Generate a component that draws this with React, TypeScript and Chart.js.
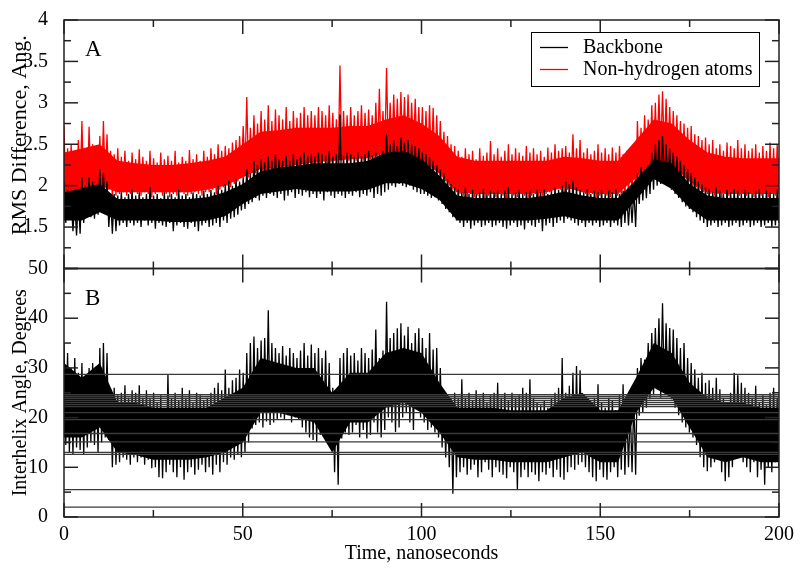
import React, { useEffect, useRef } from "react";
import { Chart, registerables } from "chart.js";

Chart.register(...registerables);

const FONT = '"Liberation Serif", "Times New Roman", serif';

// ---- Panel A: RMS difference (Angstrom) ----
// per-ns upper / lower extremes of the noisy trace (200 bins over 0..200 ns)
const backboneHigh = [
  2.05, 1.95, 1.85, 1.8, 1.85, 2.1, 2.0, 2.1, 2.05, 2.0,
  2.2, 2.15, 2.05, 1.85, 1.9, 1.88, 1.92, 1.86, 1.9, 1.95,
  1.88, 1.92, 1.86, 1.9, 1.98, 1.88, 1.9, 1.85, 1.92, 1.88,
  1.9, 1.86, 1.95, 1.88, 1.9, 1.86, 1.92, 1.9, 1.88, 1.94,
  1.9, 1.95, 1.92, 2.0, 1.95, 2.02, 2.06, 2.0, 2.08, 2.05,
  2.1, 2.2, 2.15, 2.3, 2.25, 2.32, 2.28, 2.35, 2.3, 2.38,
  2.32, 2.3, 2.36, 2.3, 2.38, 2.32, 2.35, 2.4, 2.36, 2.38,
  2.35, 2.4, 2.38, 2.36, 2.42, 2.35, 2.38, 2.86, 2.36, 2.4,
  2.38, 2.35, 2.4, 2.36, 2.38, 2.42, 2.36, 2.4, 2.38, 2.42,
  2.62, 2.5, 2.55, 2.48, 2.58, 2.52, 2.55, 2.5, 2.48, 2.45,
  2.4, 2.38, 2.35, 2.3, 2.25, 2.2, 2.15, 2.08, 2.02, 1.98,
  1.96, 1.92, 1.98, 1.9, 1.95, 1.9, 1.92, 1.96, 1.9, 1.94,
  1.92, 1.95, 1.9, 1.94, 1.98, 1.9, 1.92, 1.95, 1.9, 1.92,
  1.94, 1.9, 1.95, 1.92, 1.96, 1.9, 1.94, 1.98, 1.95, 2.0,
  2.05, 2.02, 2.06, 1.98, 1.95, 1.92, 1.96, 1.9, 1.94, 1.92,
  1.95, 1.9, 1.94, 1.92, 1.96, 1.9, 1.94, 1.92, 1.9, 1.95,
  2.15, 2.22, 2.2, 2.25, 2.4, 2.5, 2.55, 2.6, 2.5, 2.45,
  2.4, 2.35, 2.3, 2.25, 2.2, 2.15, 2.1, 2.05, 2.02, 1.98,
  1.96, 1.92, 1.98, 1.94, 1.9, 1.95, 1.92, 1.96, 1.94, 1.9,
  1.95, 1.92, 1.9, 1.94, 1.96, 1.9, 1.94, 1.92, 1.9, 1.95,
];
const backboneLow = [
  1.55, 1.6, 1.45, 1.4, 1.42, 1.55, 1.65, 1.62, 1.6, 1.65,
  1.7, 1.68, 1.5, 1.42, 1.45, 1.52, 1.55, 1.5, 1.55, 1.52,
  1.55, 1.5, 1.58, 1.52, 1.55, 1.48, 1.55, 1.52, 1.5, 1.55,
  1.45, 1.52, 1.55, 1.5, 1.48, 1.55, 1.5, 1.45, 1.52, 1.55,
  1.5, 1.52, 1.55, 1.5, 1.58, 1.55, 1.6, 1.62, 1.65, 1.7,
  1.72, 1.78, 1.8, 1.85, 1.82, 1.88, 1.85, 1.9, 1.88, 1.85,
  1.9, 1.82, 1.88, 1.92, 1.85, 1.9, 1.88, 1.92, 1.86, 1.9,
  1.85, 1.9, 1.82, 1.92, 1.88, 1.85, 1.9, 1.88, 1.85, 1.9,
  1.88, 1.92, 1.86, 1.9, 1.88, 1.92, 1.85, 1.9, 1.88, 1.92,
  1.95, 2.0, 1.98, 2.02, 2.0, 1.98, 2.0, 1.95, 1.92, 1.9,
  1.9, 1.88, 1.85, 1.86, 1.82, 1.78, 1.72, 1.68, 1.62, 1.58,
  1.55, 1.5, 1.55, 1.48, 1.52, 1.55, 1.5, 1.52, 1.55, 1.5,
  1.52, 1.55, 1.5, 1.48, 1.52, 1.55, 1.5, 1.52, 1.47, 1.55,
  1.52, 1.5, 1.55, 1.45, 1.52, 1.55, 1.5, 1.55, 1.58, 1.55,
  1.6, 1.58, 1.55, 1.52, 1.55, 1.5, 1.55, 1.52, 1.55, 1.5,
  1.52, 1.55, 1.5, 1.55, 1.52, 1.5, 1.55, 1.52, 1.55, 1.5,
  1.78, 1.82, 1.85, 1.9, 1.95, 2.0, 2.02, 2.05, 2.0, 1.95,
  1.9, 1.85, 1.8, 1.75, 1.72, 1.68, 1.62, 1.58, 1.55, 1.5,
  1.52, 1.55, 1.5, 1.52, 1.55, 1.5, 1.52, 1.55, 1.5, 1.52,
  1.55, 1.5, 1.52, 1.55, 1.5, 1.52, 1.55, 1.5, 1.52, 1.55,
];
const heavyHigh = [
  2.72, 2.45, 2.5, 2.4, 2.55, 2.78, 2.4, 2.71, 2.5, 2.45,
  2.6, 2.78, 2.62, 2.42, 2.38, 2.45, 2.35, 2.42, 2.3, 2.4,
  2.32, 2.44, 2.35, 2.3, 2.42, 2.33, 2.28, 2.4, 2.32, 2.36,
  2.3, 2.42, 2.28, 2.35, 2.3, 2.43, 2.32, 2.38, 2.3, 2.42,
  2.35, 2.45, 2.38, 2.5, 2.42, 2.48, 2.45, 2.52, 2.55, 2.6,
  2.72, 3.07, 2.7, 2.85, 2.75, 2.9, 2.8, 2.97, 2.78, 2.92,
  2.85, 2.8, 2.95, 2.78, 2.9, 2.82, 2.88, 2.95, 2.85, 2.9,
  2.85, 2.95, 2.9, 2.85, 2.97, 2.88, 2.8, 3.45, 2.9, 2.85,
  2.95, 2.85, 2.9, 2.97, 2.88, 2.92, 2.85, 3.0, 3.17, 2.9,
  3.42, 3.0, 3.1, 3.05, 3.13, 3.07, 3.1, 3.0, 3.05, 2.95,
  2.95, 2.9, 2.97, 2.94, 2.85, 2.78, 2.65, 2.6, 2.5, 2.48,
  2.42, 2.35, 2.45, 2.38, 2.42, 2.32, 2.45, 2.36, 2.4, 2.54,
  2.38, 2.45, 2.35, 2.42, 2.5, 2.38, 2.45, 2.4, 2.36, 2.48,
  2.4, 2.45, 2.38, 2.42, 2.35, 2.46, 2.4, 2.5, 2.42, 2.45,
  2.48, 2.4, 2.62, 2.45, 2.55, 2.4, 2.45, 2.38, 2.42, 2.5,
  2.4, 2.45, 2.38, 2.46, 2.4, 2.48, 2.38, 2.42, 2.4, 2.45,
  2.78, 2.7, 2.85, 2.8, 2.97, 3.0, 3.1, 3.14, 3.05, 2.95,
  2.9, 2.85, 2.78, 2.75, 2.7, 2.72, 2.62, 2.6, 2.55, 2.58,
  2.5, 2.55, 2.45, 2.5, 2.42, 2.52, 2.48, 2.45, 2.55, 2.45,
  2.5, 2.42, 2.45, 2.5, 2.4, 2.48, 2.42, 2.52, 2.45, 2.5,
];
const heavyLow = [
  1.85, 1.9, 1.82, 1.88, 1.95, 1.9, 1.92, 1.98, 1.95, 1.9,
  1.95, 2.0, 1.95, 1.85, 1.88, 1.9, 1.92, 1.88, 1.9, 1.92,
  1.9, 1.88, 1.92, 1.9, 1.86, 1.9, 1.92, 1.88, 1.9, 1.86,
  1.9, 1.88, 1.92, 1.9, 1.88, 1.9, 1.92, 1.9, 1.88, 1.92,
  1.92, 1.95, 1.9, 1.95, 1.98, 2.0, 1.98, 2.02, 2.05, 2.1,
  2.15, 2.1, 2.2, 2.15, 2.2, 2.12, 2.18, 2.2, 2.15, 2.22,
  2.2, 2.25, 2.2, 2.18, 2.25, 2.2, 2.26, 2.22, 2.28, 2.25,
  2.28, 2.25, 2.3, 2.26, 2.28, 2.3, 2.25, 2.3, 2.32, 2.3,
  2.32, 2.3, 2.34, 2.3, 2.35, 2.32, 2.3, 2.35, 2.33, 2.36,
  2.38, 2.4, 2.38, 2.42, 2.4, 2.38, 2.42, 2.4, 2.35, 2.3,
  2.28, 2.25, 2.22, 2.2, 2.15, 2.1, 2.05, 2.0, 1.95, 1.92,
  1.9, 1.88, 1.85, 1.9, 1.86, 1.88, 1.9, 1.85, 1.88, 1.9,
  1.86, 1.9, 1.88, 1.85, 1.9, 1.88, 1.86, 1.9, 1.88, 1.85,
  1.88, 1.9, 1.86, 1.88, 1.9, 1.92, 1.95, 1.98, 1.95, 1.92,
  1.95, 2.0, 1.98, 1.95, 1.92, 1.9, 1.88, 1.9, 1.86, 1.88,
  1.9, 1.88, 1.86, 1.9, 1.88, 1.85, 1.88, 1.9, 1.86, 1.88,
  2.05, 2.1, 2.15, 2.2, 2.25, 2.3, 2.35, 2.38, 2.32, 2.28,
  2.25, 2.2, 2.15, 2.1, 2.05, 2.0, 1.98, 1.95, 1.92, 1.9,
  1.9, 1.88, 1.9, 1.86, 1.9, 1.88, 1.9, 1.92, 1.88, 1.9,
  1.88, 1.9, 1.86, 1.9, 1.88, 1.9, 1.86, 1.9, 1.88, 1.9,
];
// dense core of each band, every 5 ns (0..200)
const backboneCoreHigh = [
  1.92, 1.97, 2.02, 1.84, 1.84, 1.84, 1.84, 1.84, 1.86, 1.92, 2.02, 2.17, 2.22, 2.24, 2.27, 2.27, 2.27, 2.3, 2.4, 2.42, 2.32,
  2.12, 1.88, 1.85, 1.85, 1.85, 1.85, 1.88, 1.93, 1.88, 1.85, 1.85, 2.07, 2.32, 2.27, 2.02, 1.88, 1.85, 1.85, 1.85, 1.85,
];
const backboneCoreLow = [
  1.58, 1.58, 1.68, 1.58, 1.58, 1.58, 1.56, 1.56, 1.58, 1.63, 1.78, 1.9, 1.93, 1.96, 1.93, 1.93, 1.93, 1.95, 2.03, 2.03, 1.96,
  1.83, 1.58, 1.58, 1.58, 1.58, 1.58, 1.6, 1.63, 1.58, 1.58, 1.58, 1.83, 2.08, 1.96, 1.73, 1.58, 1.58, 1.58, 1.58, 1.58,
];
const heavyCoreHigh = [
  2.4, 2.45, 2.5, 2.3, 2.27, 2.25, 2.25, 2.27, 2.3, 2.35, 2.5, 2.65, 2.67, 2.7, 2.7, 2.7, 2.72, 2.72, 2.8, 2.85, 2.75,
  2.6, 2.35, 2.3, 2.3, 2.3, 2.3, 2.3, 2.35, 2.33, 2.3, 2.3, 2.55, 2.8, 2.75, 2.55, 2.4, 2.35, 2.33, 2.33, 2.33,
];
const heavyCoreLow = [
  1.92, 1.95, 2.0, 1.92, 1.92, 1.92, 1.92, 1.92, 1.95, 2.0, 2.1, 2.2, 2.22, 2.25, 2.28, 2.3, 2.32, 2.33, 2.4, 2.42, 2.3,
  2.15, 1.92, 1.9, 1.9, 1.9, 1.9, 1.92, 1.98, 1.92, 1.9, 1.9, 2.1, 2.3, 2.25, 2.05, 1.92, 1.9, 1.9, 1.9, 1.9,
];

// ---- Panel B: interhelix angle (degrees) ----
const angleHigh = [
  35, 33, 30, 32, 29, 31, 28, 30, 31, 29,
  34, 35, 33, 24, 26, 24.5, 25, 26.5, 24, 25.5,
  25, 26.5, 24, 25.5, 24, 25, 23, 24.5, 22, 28.7,
  24, 25, 23.5, 26, 24, 25.5, 23, 25, 24.5, 23.5,
  24, 25, 26, 27, 25.5, 29.7, 26, 27.5, 28, 29.7,
  29, 33, 35, 36.3, 34, 35.5, 36, 41.6, 35, 34,
  33, 34.4, 32.5, 34, 33, 32, 33.5, 35, 32.5, 34.7,
  33, 34, 32, 33.5, 31, 26, 25.7, 32, 33, 34,
  32.5, 33, 31.5, 34, 33, 32, 33.7, 37.7, 32, 33.5,
  43.3, 36, 37, 38, 39, 36.5, 38.3, 35, 37, 38,
  36, 34, 37, 33.7, 34, 30, 25, 24.5, 24, 25,
  24, 27.7, 24, 25, 23.5, 25.5, 24, 25, 23, 24.5,
  25, 27, 24, 25, 23.5, 25, 24, 24.5, 26, 25,
  27.7, 24, 23, 22.5, 23.5, 22, 24, 25, 26, 32,
  25, 26.4, 29, 30.4, 29.5, 24, 23, 22.5, 24, 26.7,
  23, 22, 24, 23.5, 21.5, 24.5, 26.7, 23, 22, 24,
  30, 32, 31.7, 35, 37, 38, 40, 43, 39, 38,
  37.7, 36, 34, 35, 32, 31, 29.7, 28, 29, 27,
  27.5, 26, 28, 25.7, 24, 23, 25, 29, 28.5, 27,
  26, 25, 24, 26.4, 23, 24.5, 22.5, 25, 26, 24,
];
const angleLow = [
  14.5, 13, 12.5, 14, 13.5, 12.5, 14, 15, 14.5, 13,
  15, 16, 15.5, 10, 10.5, 11, 12, 11.5, 10.5, 12,
  11, 12, 10.5, 11.5, 9.8, 10, 8, 7.8, 9, 10.5,
  9, 8, 10, 7.5, 9, 10, 8.5, 9.5, 10.5, 9,
  10, 8.5, 10.5, 9, 11, 10.5, 12, 11.5, 12.5, 12,
  13, 15, 17.8, 18.5, 19, 18, 19.2, 18.5, 19, 19.5,
  20, 19.5, 20.5, 19, 20, 19.5, 18, 17, 16, 15.5,
  15.1, 16.5, 17.8, 15.5, 15, 9, 6.5, 15.8, 17, 16.5,
  17, 18.5, 16, 17.5, 15.8, 16.5, 19, 17, 16, 17.5,
  20, 19, 17.1, 18, 20, 21, 19, 17.5, 22.4, 20,
  19, 17.5, 18, 17, 16, 14, 12, 10, 4.7, 8,
  9, 10, 8.5, 9.5, 10.5, 8, 9, 11, 9.5, 8,
  10, 9, 8.5, 7.8, 10, 9, 5.5, 8, 9.5, 8,
  9, 8.5, 7.2, 9, 8.5, 9.8, 8, 9.5, 8, 7.5,
  9, 10, 9.5, 10.5, 11, 10, 9, 8, 7.2, 9.5,
  8, 7.5, 9, 10, 8, 9.5, 8.5, 10, 9, 8.5,
  20.4, 21, 22, 23.7, 24.5, 25.7, 24, 25, 24.5, 23.7,
  22, 20.5, 19, 18, 17, 16, 14.5, 12, 10, 9.2,
  10, 11, 12, 9, 7.2, 8, 10, 12, 13, 11,
  10, 9, 11, 8, 9.5, 6.5, 10, 9, 11, 10,
];
const angleCoreHigh = [
  31, 28, 31, 23, 23, 22, 22, 22, 22, 24, 26, 32, 31, 30, 30, 25, 29, 29, 33, 34, 33,
  27, 22, 22, 22, 21.5, 21.5, 21.5, 24, 25, 21.5, 21.5, 28, 35, 33, 27, 24, 23, 23, 22, 22,
];
const angleCoreLow = [
  16, 16, 18, 13, 12.5, 11.5, 11.5, 11.5, 12, 13, 15, 21, 21, 20, 19, 13, 19, 19, 22, 23, 21,
  17, 12, 11.5, 11.5, 11, 11, 11, 12, 13, 11, 11, 21, 26, 24, 18, 12, 11, 12, 11, 11,
];
// Full-width horizontal wrap-around segments visible in panel B (degrees)
const angleWrapLevels = [28.7, 24.6, 24.2, 23.8, 23.4, 23.0, 22.6, 22.2, 21.0, 19.6, 16.8, 15.1, 13.0, 12.6, 5.5, 2.0];

const timeRange = [0, 200];
const timeTicks = [0, 50, 100, 150, 200];
const timeMinorTicks = [25, 75, 125, 175];
const rmsRange = [1, 4];
const rmsTicks = [1, 1.5, 2, 2.5, 3, 3.5, 4];
const rmsMinorTicks = [1.25, 1.75, 2.25, 2.75, 3.25, 3.75];
const rmsHiddenLabels = [1];
const angleRange = [0, 50];
const angleTicks = [0, 10, 20, 30, 40, 50];
const angleMinorTicks = [5, 15, 25, 35, 45];

const legendEntries = [
  { label: "Backbone", color: "#000000" },
  { label: "Non-hydrogen atoms", color: "#ff0000" },
];

// trace alternating between each bin's upper and lower extreme
function trace(hi: number[], lo: number[]) {
  const step = (timeRange[1] - timeRange[0]) / (hi.length - 0.5);
  const pts: { x: number; y: number }[] = [];
  for (let i = 0; i < hi.length; i++) {
    pts.push({ x: timeRange[0] + i * step, y: hi[i] });
    pts.push({ x: timeRange[0] + (i + 0.5) * step, y: lo[i] });
  }
  return pts;
}
function evenly(values: number[]) {
  const step = (timeRange[1] - timeRange[0]) / (values.length - 1);
  return values.map((v, i) => ({ x: timeRange[0] + i * step, y: v }));
}

const decorPlugin = {
  id: "decor",
  afterDatasetsDraw(chart: any) {
    const ctx = chart.ctx as CanvasRenderingContext2D;
    const xs = chart.scales.x;
    const left = chart.chartArea.left;
    const right = chart.chartArea.right;
    const panels = [
      { s: chart.scales.yA, major: rmsTicks, minor: rmsMinorTicks, letter: "A", title: "RMS Difference, Ang.", titleSize: 22, titleShift: -9 },
      { s: chart.scales.yB, major: angleTicks, minor: angleMinorTicks, letter: "B", title: "Interhelix Angle, Degrees", titleSize: 20, titleShift: 0 },
    ];
    ctx.save();
    const seg = (x1: number, y1: number, x2: number, y2: number) => {
      ctx.beginPath();
      ctx.moveTo(x1, y1);
      ctx.lineTo(x2, y2);
      ctx.stroke();
    };
    for (const p of panels) {
      const top = p.s.top;
      const bottom = p.s.bottom;
      ctx.strokeStyle = "#222";
      ctx.lineWidth = 1.5;
      ctx.strokeRect(left, top, right - left, bottom - top);
      for (const v of timeTicks) {
        const px = xs.getPixelForValue(v);
        seg(px, bottom, px, bottom - 14);
        seg(px, top, px, top + 14);
      }
      for (const v of timeMinorTicks) {
        const px = xs.getPixelForValue(v);
        seg(px, bottom, px, bottom - 7);
        seg(px, top, px, top + 7);
      }
      for (const v of p.major) {
        const py = p.s.getPixelForValue(v);
        seg(left, py, left + 14, py);
        seg(right, py, right - 14, py);
      }
      for (const v of p.minor) {
        const py = p.s.getPixelForValue(v);
        seg(left, py, left + 7, py);
        seg(right, py, right - 7, py);
      }
      ctx.fillStyle = "#000";
      ctx.font = `23px ${FONT}`;
      ctx.textAlign = "left";
      ctx.textBaseline = "alphabetic";
      ctx.fillText(p.letter, left + 21, top + 36);
      ctx.save();
      ctx.translate(26, (top + bottom) / 2 + p.titleShift);
      ctx.rotate(-Math.PI / 2);
      ctx.font = `${p.titleSize}px ${FONT}`;
      ctx.textAlign = "center";
      ctx.fillText(p.title, 0, 0);
      ctx.restore();
    }
    // legend box
    const lx = 531, ly = 32, lw = 228, lh = 54;
    ctx.fillStyle = "#fff";
    ctx.fillRect(lx, ly, lw, lh);
    ctx.lineWidth = 1;
    ctx.strokeStyle = "#000";
    ctx.strokeRect(lx + 0.5, ly + 0.5, lw, lh);
    legendEntries.forEach((d, i) => {
      const y = ly + 15 + i * 22;
      ctx.strokeStyle = d.color;
      ctx.lineWidth = 1.3;
      seg(lx + 9, y + 0.5, lx + 37, y + 0.5);
      ctx.fillStyle = "#000";
      ctx.font = `20px ${FONT}`;
      ctx.textAlign = "left";
      ctx.textBaseline = "middle";
      ctx.fillText(d.label, lx + 52, y + 1);
    });
    ctx.restore();
  },
};

export default function App() {
  const ref = useRef<HTMLCanvasElement | null>(null);
  useEffect(() => {
    if (!ref.current) return;
    const tickFont = { family: FONT, size: 20 };
    const wrapSets = angleWrapLevels.map((v) => ({
      label: "wrap",
      data: [
        { x: timeRange[0], y: v },
        { x: timeRange[1], y: v },
      ],
      yAxisID: "yB",
      borderColor: "#3a3a3a",
      borderWidth: 1.3,
      fill: false,
      order: 0,
    }));
    const core = (label: string, hi: number[], lo: number[], color: string, axis: string, order: number) => [
      { label: label + " core", data: evenly(hi), yAxisID: axis, borderColor: color, backgroundColor: color, borderWidth: 0, fill: false, order },
      { label: label + " core (lower)", data: evenly(lo), yAxisID: axis, borderColor: color, backgroundColor: color, borderWidth: 0, fill: "-1", order },
    ];
    const chart = new Chart(ref.current, {
      type: "line",
      data: {
        datasets: [
          ...wrapSets,
          { label: "Backbone", data: trace(backboneHigh, backboneLow), yAxisID: "yA", borderColor: "#000000", borderWidth: 1.3, fill: false, order: 1 },
          ...core("Backbone", backboneCoreHigh, backboneCoreLow, "#000000", "yA", 1.5),
          { label: "Non-hydrogen atoms", data: trace(heavyHigh, heavyLow), yAxisID: "yA", borderColor: "#ff0000", borderWidth: 1.3, fill: false, order: 2 },
          ...core("Non-hydrogen atoms", heavyCoreHigh, heavyCoreLow, "#ff0000", "yA", 2.5),
          { label: "Interhelix angle", data: trace(angleHigh, angleLow), yAxisID: "yB", borderColor: "#000000", borderWidth: 1.3, fill: false, order: 3 },
          ...core("Interhelix angle", angleCoreHigh, angleCoreLow, "#000000", "yB", 3.5),
        ] as any,
      },
      options: {
        animation: false,
        responsive: false,
        maintainAspectRatio: false,
        parsing: false,
        layout: { padding: { left: 0, right: 21, top: 14, bottom: 0 } },
        elements: { point: { radius: 0 }, line: { tension: 0 } },
        plugins: { legend: { display: false }, tooltip: { enabled: false }, filler: { propagate: false } },
        scales: {
          x: {
            type: "linear",
            position: "bottom",
            min: timeRange[0],
            max: timeRange[1],
            grid: { display: false },
            border: { display: false },
            afterBuildTicks: (s: any) => {
              s.ticks = timeTicks.map((v) => ({ value: v }));
            },
            afterFit: (s: any) => {
              s.height = 53;
            },
            ticks: { font: tickFont, color: "#000", padding: -2, maxRotation: 0, autoSkip: false, callback: (v: any) => String(v) },
            title: { display: true, text: "Time, nanoseconds", font: tickFont, color: "#000", padding: { top: 0, bottom: 4 } },
          },
          yB: {
            type: "linear",
            position: "left",
            stack: "panels",
            stackWeight: 1,
            min: angleRange[0],
            max: angleRange[1],
            grid: { display: false },
            border: { display: false },
            afterBuildTicks: (s: any) => {
              s.ticks = angleTicks.map((v) => ({ value: v }));
            },
            afterFit: (s: any) => {
              s.width = 64;
            },
            ticks: { font: tickFont, color: "#000", padding: 8, autoSkip: false, callback: (v: any) => String(v) },
          },
          yA: {
            type: "linear",
            position: "left",
            stack: "panels",
            stackWeight: 1,
            min: rmsRange[0],
            max: rmsRange[1],
            grid: { display: false },
            border: { display: false },
            afterBuildTicks: (s: any) => {
              s.ticks = rmsTicks.map((v) => ({ value: v }));
            },
            afterFit: (s: any) => {
              s.width = 64;
            },
            ticks: {
              font: tickFont,
              color: "#000",
              padding: 8,
              autoSkip: false,
              callback: (v: any) => (rmsHiddenLabels.includes(v) ? "" : String(v)),
            },
          },
        },
      } as any,
      plugins: [decorPlugin],
    });
    return () => chart.destroy();
  }, []);
  return (
    <div style={{ position: "fixed", left: 0, top: 0, width: 800, height: 570, background: "#fff" }}>
      <canvas ref={ref} width={800} height={570} style={{ display: "block" }} />
    </div>
  );
}
